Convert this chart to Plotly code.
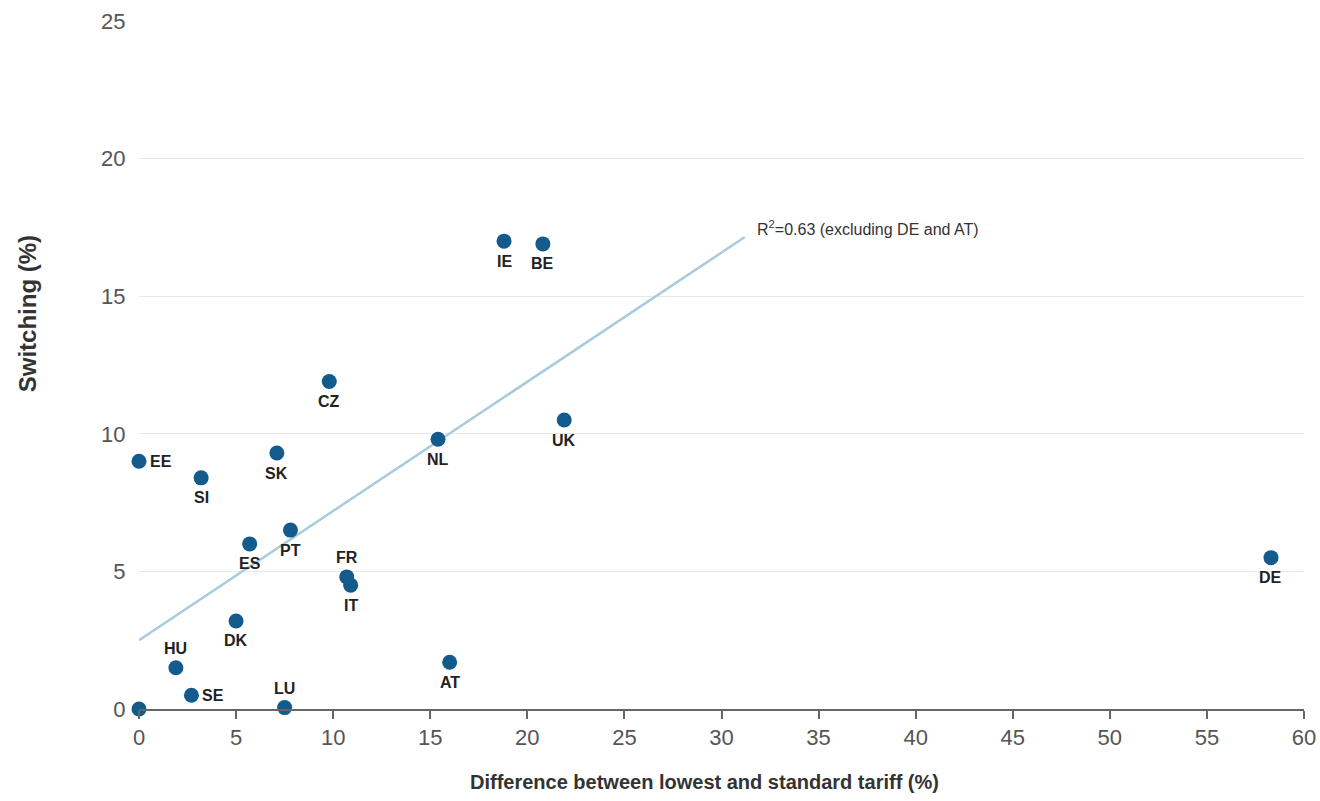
import plotly.graph_objects as go

countries = ["EE", "SI", "SK", "CZ", "NL", "IE", "BE", "UK", "PT", "ES", "FR", "IT",
             "DK", "HU", "SE", "LU", "AT", "DE", ""]
tariff_diff = [0.0, 3.2, 7.1, 9.8, 15.4, 18.8, 20.8, 21.9, 7.8, 5.7, 10.7, 10.9,
               5.0, 1.9, 2.7, 7.5, 16.0, 58.3, 0.0]
switching = [9.0, 8.4, 9.3, 11.9, 9.8, 17.0, 16.9, 10.5, 6.5, 6.0, 4.8, 4.5,
             3.2, 1.5, 0.5, 0.05, 1.7, 5.5, 0.0]
label_side = ["right", "below", "below", "below", "below", "below", "below", "below",
              "below", "below", "above", "below", "below", "above", "right", "above",
              "below", "below", "below"]

trend_x = [0.0, 31.2]
trend_y = [2.5, 17.15]
trend_label = "R<sup>2</sup>=0.63 (excluding DE and AT)"

x_ticks = list(range(0, 61, 5))
y_ticks = list(range(0, 26, 5))

font_main = "Liberation Sans, Arial"

fig = go.Figure()
fig.add_trace(go.Scatter(
    x=trend_x, y=trend_y, mode="lines",
    line=dict(color="#a8cbdf", width=2.5), hoverinfo="skip", showlegend=False))
fig.add_trace(go.Scatter(
    x=tariff_diff, y=switching, mode="markers",
    marker=dict(color="#135b8c", size=15),
    cliponaxis=False, showlegend=False))

label_font = dict(family=font_main, size=16, color="#222222")
for c, x, y, side in zip(countries, tariff_diff, switching, label_side):
    if not c:
        continue
    if side == "right":
        fig.add_annotation(x=x, y=y, text="<b>%s</b>" % c, showarrow=False,
                           xanchor="left", yanchor="middle", xshift=9, font=label_font)
    elif side == "above":
        fig.add_annotation(x=x, y=y, text="<b>%s</b>" % c, showarrow=False,
                           xanchor="center", yanchor="middle", yshift=19, font=label_font)
    else:
        fig.add_annotation(x=x, y=y, text="<b>%s</b>" % c, showarrow=False,
                           xanchor="center", yanchor="middle", yshift=-20, font=label_font)

fig.add_annotation(x=trend_x[1], y=trend_y[1], text=trend_label, showarrow=False,
                   xanchor="left", yanchor="middle", xshift=10, yshift=9,
                   font=dict(family=font_main, size=16, color="#333333"))
fig.add_annotation(xref="paper", yref="paper", x=-0.096, y=0.574, text="<b>Switching (%)</b>",
                   textangle=-90, showarrow=False, xanchor="center", yanchor="middle",
                   font=dict(family=font_main, size=24, color="#333333"))
fig.add_annotation(xref="paper", yref="paper", x=0.485, y=-0.106,
                   text="<b>Difference between lowest and standard tariff (%)</b>",
                   showarrow=False, xanchor="center", yanchor="middle",
                   font=dict(family=font_main, size=20, color="#333333"))

fig.update_layout(
    width=1320, height=801,
    paper_bgcolor="white", plot_bgcolor="white",
    margin=dict(l=139, r=16, t=21, b=92, autoexpand=False),
    xaxis=dict(range=[0, 60], tickvals=x_ticks, showgrid=False, zeroline=False,
               showline=True, linecolor="#666666", linewidth=2,
               ticks="outside", ticklen=8, tickcolor="#666666", tickwidth=1.5,
               ticklabeloverflow="allow", automargin=False,
               tickfont=dict(family=font_main, size=22, color="#555555")),
    yaxis=dict(range=[0, 25], tickvals=y_ticks, showgrid=True, gridcolor="#e8e8e8",
               gridwidth=1, zeroline=False, showline=False, automargin=False,
               ticks="outside", ticklen=8, tickcolor="rgba(0,0,0,0)",
               tickfont=dict(family=font_main, size=22, color="#555555")),
)

fig.write_html("out.html", config={"displayModeBar": False},
               post_script="document.body.style.margin='0';document.body.style.overflow='hidden';")
